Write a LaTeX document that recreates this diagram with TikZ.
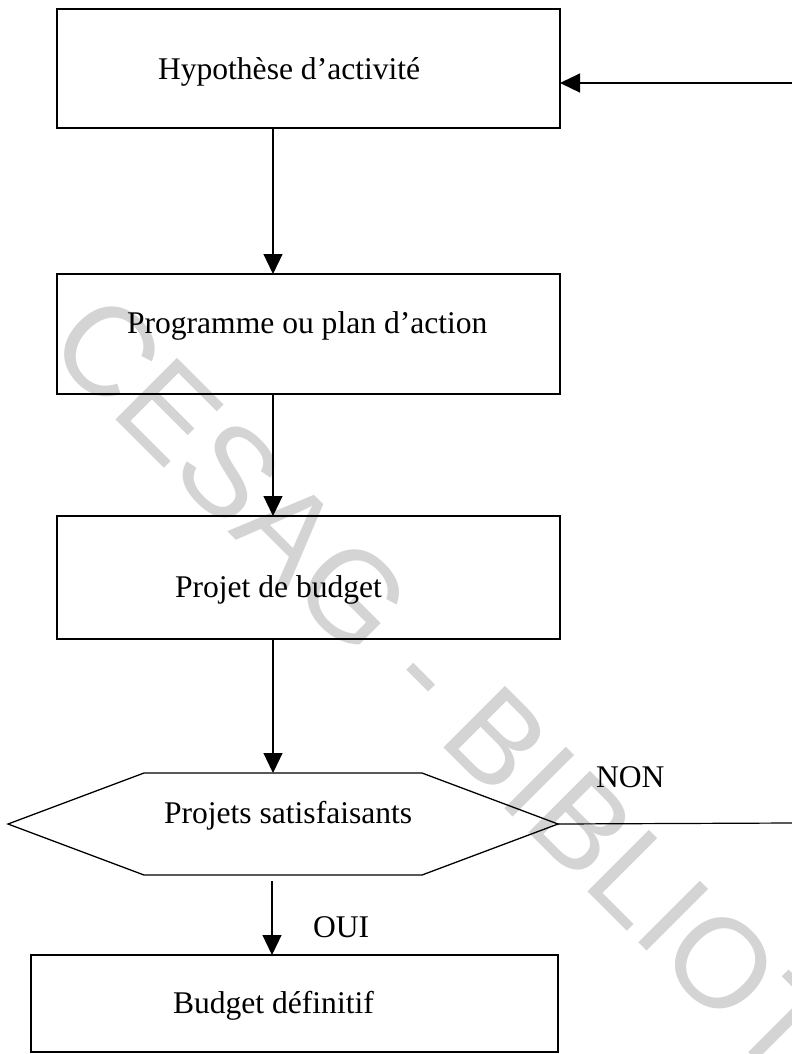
\documentclass[tikz,border=0pt]{standalone}
\usepackage{fontspec}
\setmainfont{Liberation Serif}
\newfontfamily\wmfont{Liberation Sans}
\usetikzlibrary{arrows.meta,calc}
\definecolor{wmgray}{RGB}{212,212,212}
\tikzset{
  box/.style={draw=black, line width=1.3bp, inner sep=0pt, outer sep=0pt, rectangle},
  lbl/.style={inner sep=0pt, outer sep=0pt, anchor=base west, font=\fontsize{31.7}{38}\selectfont},
  arr/.style={line width=1.2bp, -{Triangle[length=20bp,width=19bp]}},
  conn/.style={line width=1.2bp},
  wm/.style={inner sep=0pt, outer sep=0pt, text=wmgray, font=\wmfont\fontsize{127}{127}\selectfont}
}
\begin{document}
\begin{tikzpicture}[x=1bp,y=-1bp]
\useasboundingbox (0,0) rectangle (792,1054);
\fill[white] (0,0) rectangle (792,1054);
\clip (0,0) rectangle (792,1054);
% watermark
\node[wm, anchor=base west, rotate=-45] (wm) at (44,348) {CESAG - BIBLIOTHEQUE};
% boxes
\node[box, minimum width=503bp, minimum height=119bp] (b1) at (308.5,68.5) {};
\node[box, minimum width=503bp, minimum height=120bp] (b2) at (308.5,334) {};
\node[box, minimum width=503bp, minimum height=123bp] (b3) at (308.5,577.5) {};
\node[inner sep=0pt, outer sep=0pt, minimum width=550bp, minimum height=102bp] (dec) at (283,824) {};
\draw[line width=1.3bp, line join=miter] (dec.west) -- ($(dec.north west)+(136,0)$) -- ($(dec.north east)+(-136,0)$) -- (dec.east) -- ($(dec.south east)+(-136,0)$) -- ($(dec.south west)+(136,0)$) -- cycle;
\node[box, minimum width=527bp, minimum height=97bp] (b5) at (294.5,1003.5) {};
% texts
\node[lbl] (t1) at (158,79) {Hypothèse d’activité};
\node[lbl] (t2) at (127,333) {Programme ou plan d’action};
\node[lbl] (t3) at (175,597) {Projet de budget};
\node[lbl] (t4) at (164,823) {Projets satisfaisants};
\node[lbl] (t5) at (173,1013) {Budget définitif};
\node[lbl] (non) at (596,787) {NON};
\node[lbl] (oui) at (313,937) {OUI};
% connectors
\coordinate (rin) at (792,83);
\coordinate (rout) at (792,823);
\draw[arr] (rin) -- (rin -| b1.east);
\draw[conn] (dec.east) -- (rout);
\draw[arr] ($(b1.south)+(-35.5,0)$) -- ($(b2.north)+(-35.5,0)$);
\draw[arr] ($(b2.south)+(-35.5,0)$) -- ($(b3.north)+(-35.5,0)$);
\draw[arr] ($(b3.south)+(-35.5,0)$) -- ($(b3.south |- dec.north)+(-35.5,0)$);
\draw[arr] ($(b5.north |- dec.south)+(-22.5,6)$) -- ($(b5.north)+(-22.5,0)$);
\end{tikzpicture}
\end{document}
